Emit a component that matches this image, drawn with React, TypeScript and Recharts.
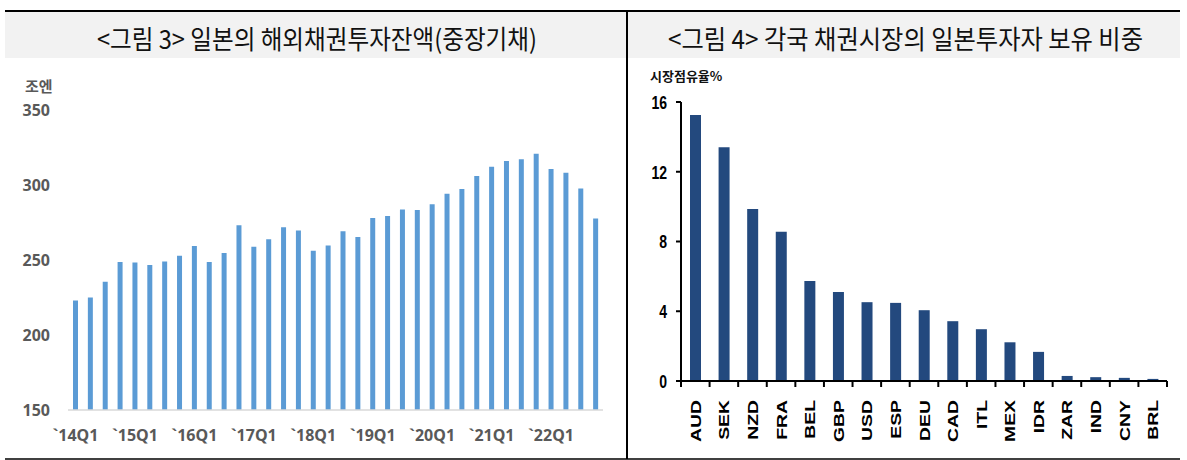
import React from "react";
import { BarChart, Bar, XAxis, YAxis } from "recharts";

// <그림 3> 일본의 해외채권투자잔액(중장기채), 조엔
const quarters = [
  "`14Q1", "`14Q2", "`14Q3", "`14Q4",
  "`15Q1", "`15Q2", "`15Q3", "`15Q4",
  "`16Q1", "`16Q2", "`16Q3", "`16Q4",
  "`17Q1", "`17Q2", "`17Q3", "`17Q4",
  "`18Q1", "`18Q2", "`18Q3", "`18Q4",
  "`19Q1", "`19Q2", "`19Q3", "`19Q4",
  "`20Q1", "`20Q2", "`20Q3", "`20Q4",
  "`21Q1", "`21Q2", "`21Q3", "`21Q4",
  "`22Q1", "`22Q2", "`22Q3", "`22Q4",
];
const holdings = [
  223, 225, 235.5, 248.7, 248.4, 246.7, 249, 252.9, 259.3, 248.7, 254.7, 273.1,
  258.9, 263.8, 271.8, 269.6, 256.2, 259.6, 269.1, 265.3, 278, 279.3, 283.6, 283.3,
  287.1, 294.2, 297.3, 306, 312.2, 316, 317.1, 320.9, 310.7, 308.2, 297.6, 277.6,
];
const holdingTicks = [150, 200, 250, 300, 350];

// <그림 4> 각국 채권시장의 일본투자자 보유 비중, 시장점유율%
const markets = ["AUD", "SEK", "NZD", "FRA", "BEL", "GBP", "USD", "ESP", "DEU", "CAD", "ITL", "MEX", "IDR", "ZAR", "IND", "CNY", "BRL"];
const shares = [15.25, 13.41, 9.87, 8.56, 5.73, 5.11, 4.52, 4.48, 4.06, 3.43, 2.97, 2.22, 1.67, 0.29, 0.22, 0.18, 0.12];
const shareTicks = [0, 4, 8, 12, 16];

const holdingData = quarters.map((q, i) => ({ q, v: holdings[i] }));
const shareData = markets.map((m, i) => ({ m, v: shares[i] }));

const KR = "'Noto Sans CJK KR', 'Noto Sans', sans-serif";
const EXCEL = "'Noto Sans', 'Open Sans', sans-serif";
const ARIAL = "'Liberation Sans', Arial, sans-serif";

function MarketTick(props: any) {
  const { x, y, payload, index } = props;
  const half = payload?.offset ? payload.offset : 14.3;
  return (
    <g>
      <line x1={x - half} y1={y} x2={x - half} y2={y + 6} stroke="#000" strokeWidth={2} />
      {index === markets.length - 1 && (
        <line x1={x + half} y1={y} x2={x + half} y2={y + 6} stroke="#000" strokeWidth={2} />
      )}
      <text
        transform={`translate(${x},${y + 19}) rotate(-90) scale(1.14,0.9)`}
        textAnchor="end"
        dy="0.36em"
        fontSize={17}
        fontWeight={700}
        fontFamily={ARIAL}
        fill="#000"
      >
        {payload.value}
      </text>
    </g>
  );
}

// narrow bold numbers like Arial Narrow
function ShareTick(props: any) {
  const { x, y, payload } = props;
  return (
    <text
      transform={`translate(${x},${y}) scale(0.78,1.05)`}
      textAnchor="end"
      dy="0.36em"
      fontSize={18}
      fontWeight={700}
      fontFamily={ARIAL}
      fill="#000"
    >
      {payload.value}
    </text>
  );
}

function Frame() {
  return (
    <svg width={1187} height={460} style={{ position: "absolute", left: 0, top: 0 }}>
      <rect x={5} y={12} width={621} height={46} fill="#f2f2f2" />
      <rect x={628} y={12} width={552} height={46} fill="#f2f2f2" />
      <line x1={5} y1={11} x2={1180} y2={11} stroke="#000" strokeWidth={2} />
      <line x1={627} y1={11} x2={627} y2={459} stroke="#000" strokeWidth={2} />
      <line x1={5} y1={459} x2={1180} y2={459} stroke="#000" strokeWidth={1.5} />
      <text x={97} y={37} dominantBaseline="central" fontSize={26} fontFamily={KR} fill="#111"
        textLength={440} lengthAdjust="spacingAndGlyphs">
        {"<그림 3> 일본의 해외채권투자잔액(중장기채)"}
      </text>
      <text x={668} y={37} dominantBaseline="central" fontSize={26} fontFamily={KR} fill="#111"
        textLength={475} lengthAdjust="spacingAndGlyphs">
        {"<그림 4> 각국 채권시장의 일본투자자 보유 비중"}
      </text>
      <text x={25} y={85} dominantBaseline="central" fontSize={15} fontWeight={700} fontFamily={KR} fill="#595959">
        조엔
      </text>
      <text x={650} y={75} dominantBaseline="central" fontSize={13} fontWeight={700} fontFamily={KR} fill="#111">
        시장점유율%
      </text>
    </svg>
  );
}

export default function App() {
  return (
    <div style={{ position: "absolute", left: 0, top: 0, width: 1187, height: 460, background: "#fff" }}>
      <Frame />
      <div style={{ position: "absolute", left: 0, top: 0 }}>
        <BarChart width={630} height={460} data={holdingData} margin={{ top: 110, right: 27, left: 8, bottom: 20 }}>
          <XAxis
            dataKey="q"
            interval={3}
            height={30}
            tickSize={0}
            tickMargin={20}
            tickLine={false}
            axisLine={{ stroke: "#d9d9d9", strokeWidth: 1.5 }}
            tick={{ fontSize: 16, fontWeight: 700, fill: "#595959", fontFamily: EXCEL }}
          />
          <YAxis
            type="number"
            domain={[150, 350]}
            ticks={holdingTicks}
            width={60}
            tickSize={0}
            tickMargin={18}
            axisLine={false}
            tickLine={false}
            tick={{ fontSize: 16, fontWeight: 700, fill: "#595959", fontFamily: EXCEL }}
          />
          <Bar dataKey="v" fill="#5b9bd5" barSize={5} isAnimationActive={false} />
        </BarChart>
      </div>
      <div style={{ position: "absolute", left: 630, top: 0 }}>
        <BarChart width={557} height={460} data={shareData} margin={{ top: 102, right: 20, left: 11, bottom: 9 }}>
          <XAxis
            dataKey="m"
            interval={0}
            height={70}
            tickSize={0}
            tickMargin={0}
            tickLine={false}
            axisLine={{ stroke: "#000", strokeWidth: 2 }}
            tick={<MarketTick />}
          />
          <YAxis
            type="number"
            domain={[0, 16]}
            ticks={shareTicks}
            width={40}
            tickSize={5}
            tickMargin={9}
            axisLine={{ stroke: "#000", strokeWidth: 2 }}
            tickLine={{ stroke: "#000", strokeWidth: 2 }}
            tick={<ShareTick />}
          />
          <Bar dataKey="v" fill="#23497e" barSize={11} isAnimationActive={false} />
        </BarChart>
      </div>
    </div>
  );
}
